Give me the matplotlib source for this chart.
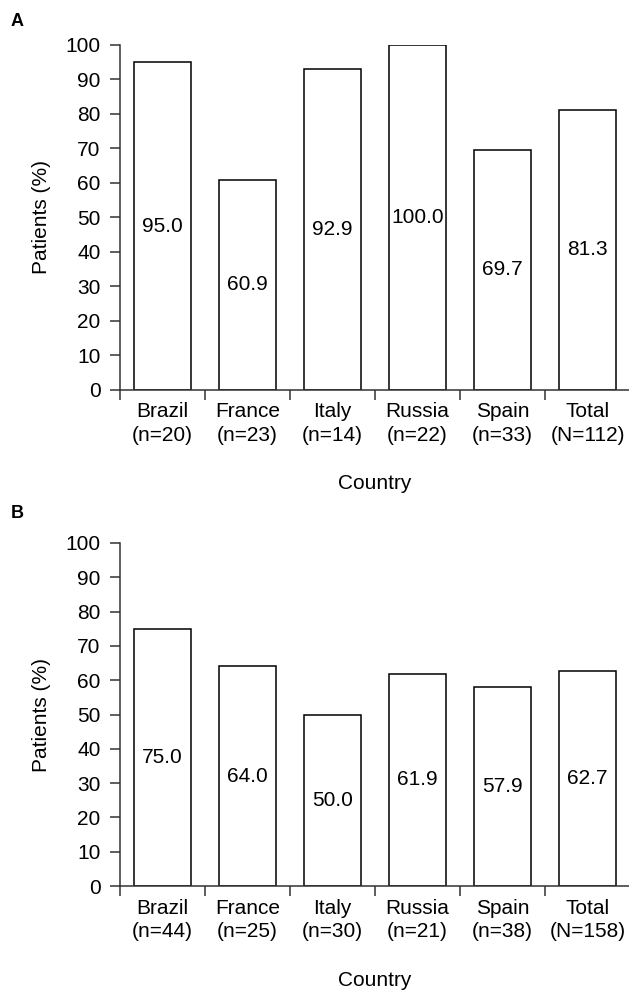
import matplotlib
matplotlib.use("Agg")
import matplotlib.pyplot as plt
import numpy as np

plt.rcParams['font.family'] = ['Liberation Sans', 'DejaVu Sans']

countries = ["Brazil", "France", "Italy", "Russia", "Spain", "Total"]
n_a = ["(n=20)", "(n=23)", "(n=14)", "(n=22)", "(n=33)", "(N=112)"]
n_b = ["(n=44)", "(n=25)", "(n=30)", "(n=21)", "(n=38)", "(N=158)"]
values_a = [95.0, 60.9, 92.9, 100.0, 69.7, 81.3]
values_b = [75.0, 64.0, 50.0, 61.9, 57.9, 62.7]
yticks = [0, 10, 20, 30, 40, 50, 60, 70, 80, 90, 100]

W, H = 629, 992
fig = plt.figure(figsize=(W / 100, H / 100), dpi=100)

FS = 15
spine_col = "#333333"


def panel(top_px, bottom_px, values, nlabels, letter, letter_y):
    left_px, right_px = 120, 630
    ax = fig.add_axes([left_px / W, 1 - bottom_px / H,
                       (right_px - left_px) / W, (bottom_px - top_px) / H])
    x = np.arange(len(values))
    ax.bar(x, values, width=0.67, color="white", edgecolor="black",
           linewidth=1.1, zorder=2)
    for xi, v in zip(x, values):
        ax.text(xi, v / 2, f"{v:.1f}", ha="center", va="center", fontsize=FS,
                color="black", zorder=3)
    ax.set_xlim(-0.5, len(values) - 0.5)
    ax.set_ylim(0, 100)
    ax.set_yticks(yticks)
    ax.set_xticks(x)
    ax.set_xticklabels([f"{c}\n{n}" for c, n in zip(countries, nlabels)],
                       fontsize=FS, linespacing=1.3)
    ax.set_xticks(np.arange(-0.5, len(values) - 0.5, 1.0), minor=True)
    ax.tick_params(axis="x", which="major", length=0, pad=9)
    ax.tick_params(axis="x", which="minor", length=7, width=1.1,
                   color=spine_col, direction="out")
    ax.tick_params(axis="y", length=7, width=1.1, color=spine_col, pad=7,
                   labelsize=FS)
    for s in ["top", "right"]:
        ax.spines[s].set_visible(False)
    for s in ["left", "bottom"]:
        ax.spines[s].set_color(spine_col)
        ax.spines[s].set_linewidth(1.1)
    ax.set_ylabel("Patients (%)", fontsize=FS)
    ax.yaxis.set_label_coords((42 - left_px) / (right_px - left_px), 0.5)
    ax.yaxis.label.set_va("center")
    ax.set_xlabel("Country", fontsize=FS)
    ax.xaxis.set_label_coords(0.5, -(94 / (bottom_px - top_px)))
    ax.xaxis.label.set_va("center")
    fig.text(11 / W, 1 - letter_y / H, letter, fontsize=13, fontweight="bold",
             ha="left", va="center")
    return ax


panel(45, 390, values_a, n_a, "A", 22)
panel(543, 886, values_b, n_b, "B", 514)

fig.savefig("out.png", dpi=100)
